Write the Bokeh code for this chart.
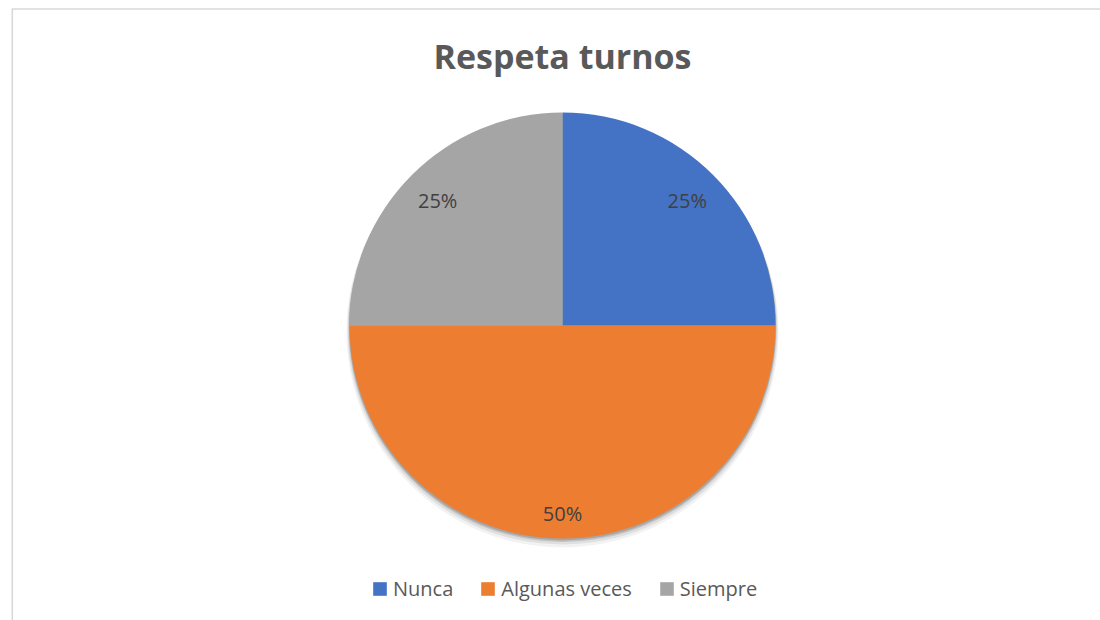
import numpy as np
from bokeh.plotting import figure
from bokeh.models import ColumnDataSource, Range1d, Legend, LegendItem
from bokeh.core.properties import value
from bokeh.embed import file_html
from bokeh.resources import INLINE

# ---- data ----
title_text = "Respeta turnos"
categories = ["Nunca", "Algunas veces", "Siempre"]
shares = [25, 50, 25]
colors = ["#4472C4", "#ED7D31", "#A5A5A5"]

W, H = 1100, 620
FONT = "Open Sans"

p = figure(width=W, height=H, output_backend="svg", toolbar_location=None,
           x_range=Range1d(0, W), y_range=Range1d(0, H),
           x_axis_type=None, y_axis_type=None, min_border=0,
           outline_line_color=None, background_fill_color="white",
           border_fill_color="white")
p.grid.visible = False

# chart border (top + left, the rest is outside the window)
p.segment(x0=[11.2, 11.8], y0=[611.5, 611.5], x1=[W, 11.8], y1=[611.5, 0],
          line_color="#d9d9d9", line_width=1.6)

cx, cy, R = 562, 295, 213

# soft shadow
for dr, dy, a in [(3, -6, 0.05), (2, -4, 0.08), (1, -2.5, 0.12), (0.5, -1.5, 0.15)]:
    p.circle(x=[cx], y=[cy + dy], radius=R + dr, fill_color="#000000",
             fill_alpha=a, line_color=None)

vals = np.array(shares, dtype=float)
frac = vals / vals.sum()
cum = np.concatenate([[0], np.cumsum(frac)])
start = np.pi / 2 - cum[:-1] * 2 * np.pi
end = np.pi / 2 - cum[1:] * 2 * np.pi
mid = (start + end) / 2

src = ColumnDataSource(dict(cat=categories, start=start, end=end, color=colors))
wr = p.wedge(x=cx, y=cy, radius=R, start_angle="start", end_angle="end",
             direction="clock", fill_color="color", line_color=None, source=src)

# data labels at inside end
hw, hh, pad = 20, 9, 16
lr = R - pad - (hw * np.abs(np.cos(mid)) + hh * np.abs(np.sin(mid)))
lx = cx + lr * np.cos(mid)
ly = cy + lr * np.sin(mid)
labels = [f"{s:.0f}%" for s in frac * 100]
p.text(x=lx, y=ly, text=labels, text_align="center", text_baseline="middle",
       text_font=value(FONT), text_font_size="20px", text_color="#404040")

# title
p.text(x=[cx], y=[565], text=[title_text], text_align="center", text_baseline="middle",
       text_font=value(FONT), text_font_size="34px", text_font_style="bold",
       text_color="#595959")

legend = Legend(items=[LegendItem(label=c, renderers=[wr], index=i)
                       for i, c in enumerate(categories)],
                location=(371, 18), orientation="horizontal")
legend.label_text_font = FONT
legend.label_text_font_size = "20px"
legend.label_text_color = "#595959"
legend.glyph_width = 17
legend.glyph_height = 17
legend.label_standoff = 5
legend.spacing = 26
legend.padding = 0
legend.margin = 0
legend.border_line_color = None
legend.background_fill_alpha = 0
p.add_layout(legend, "center")

open("out.html", "w").write(file_html(p, INLINE))
